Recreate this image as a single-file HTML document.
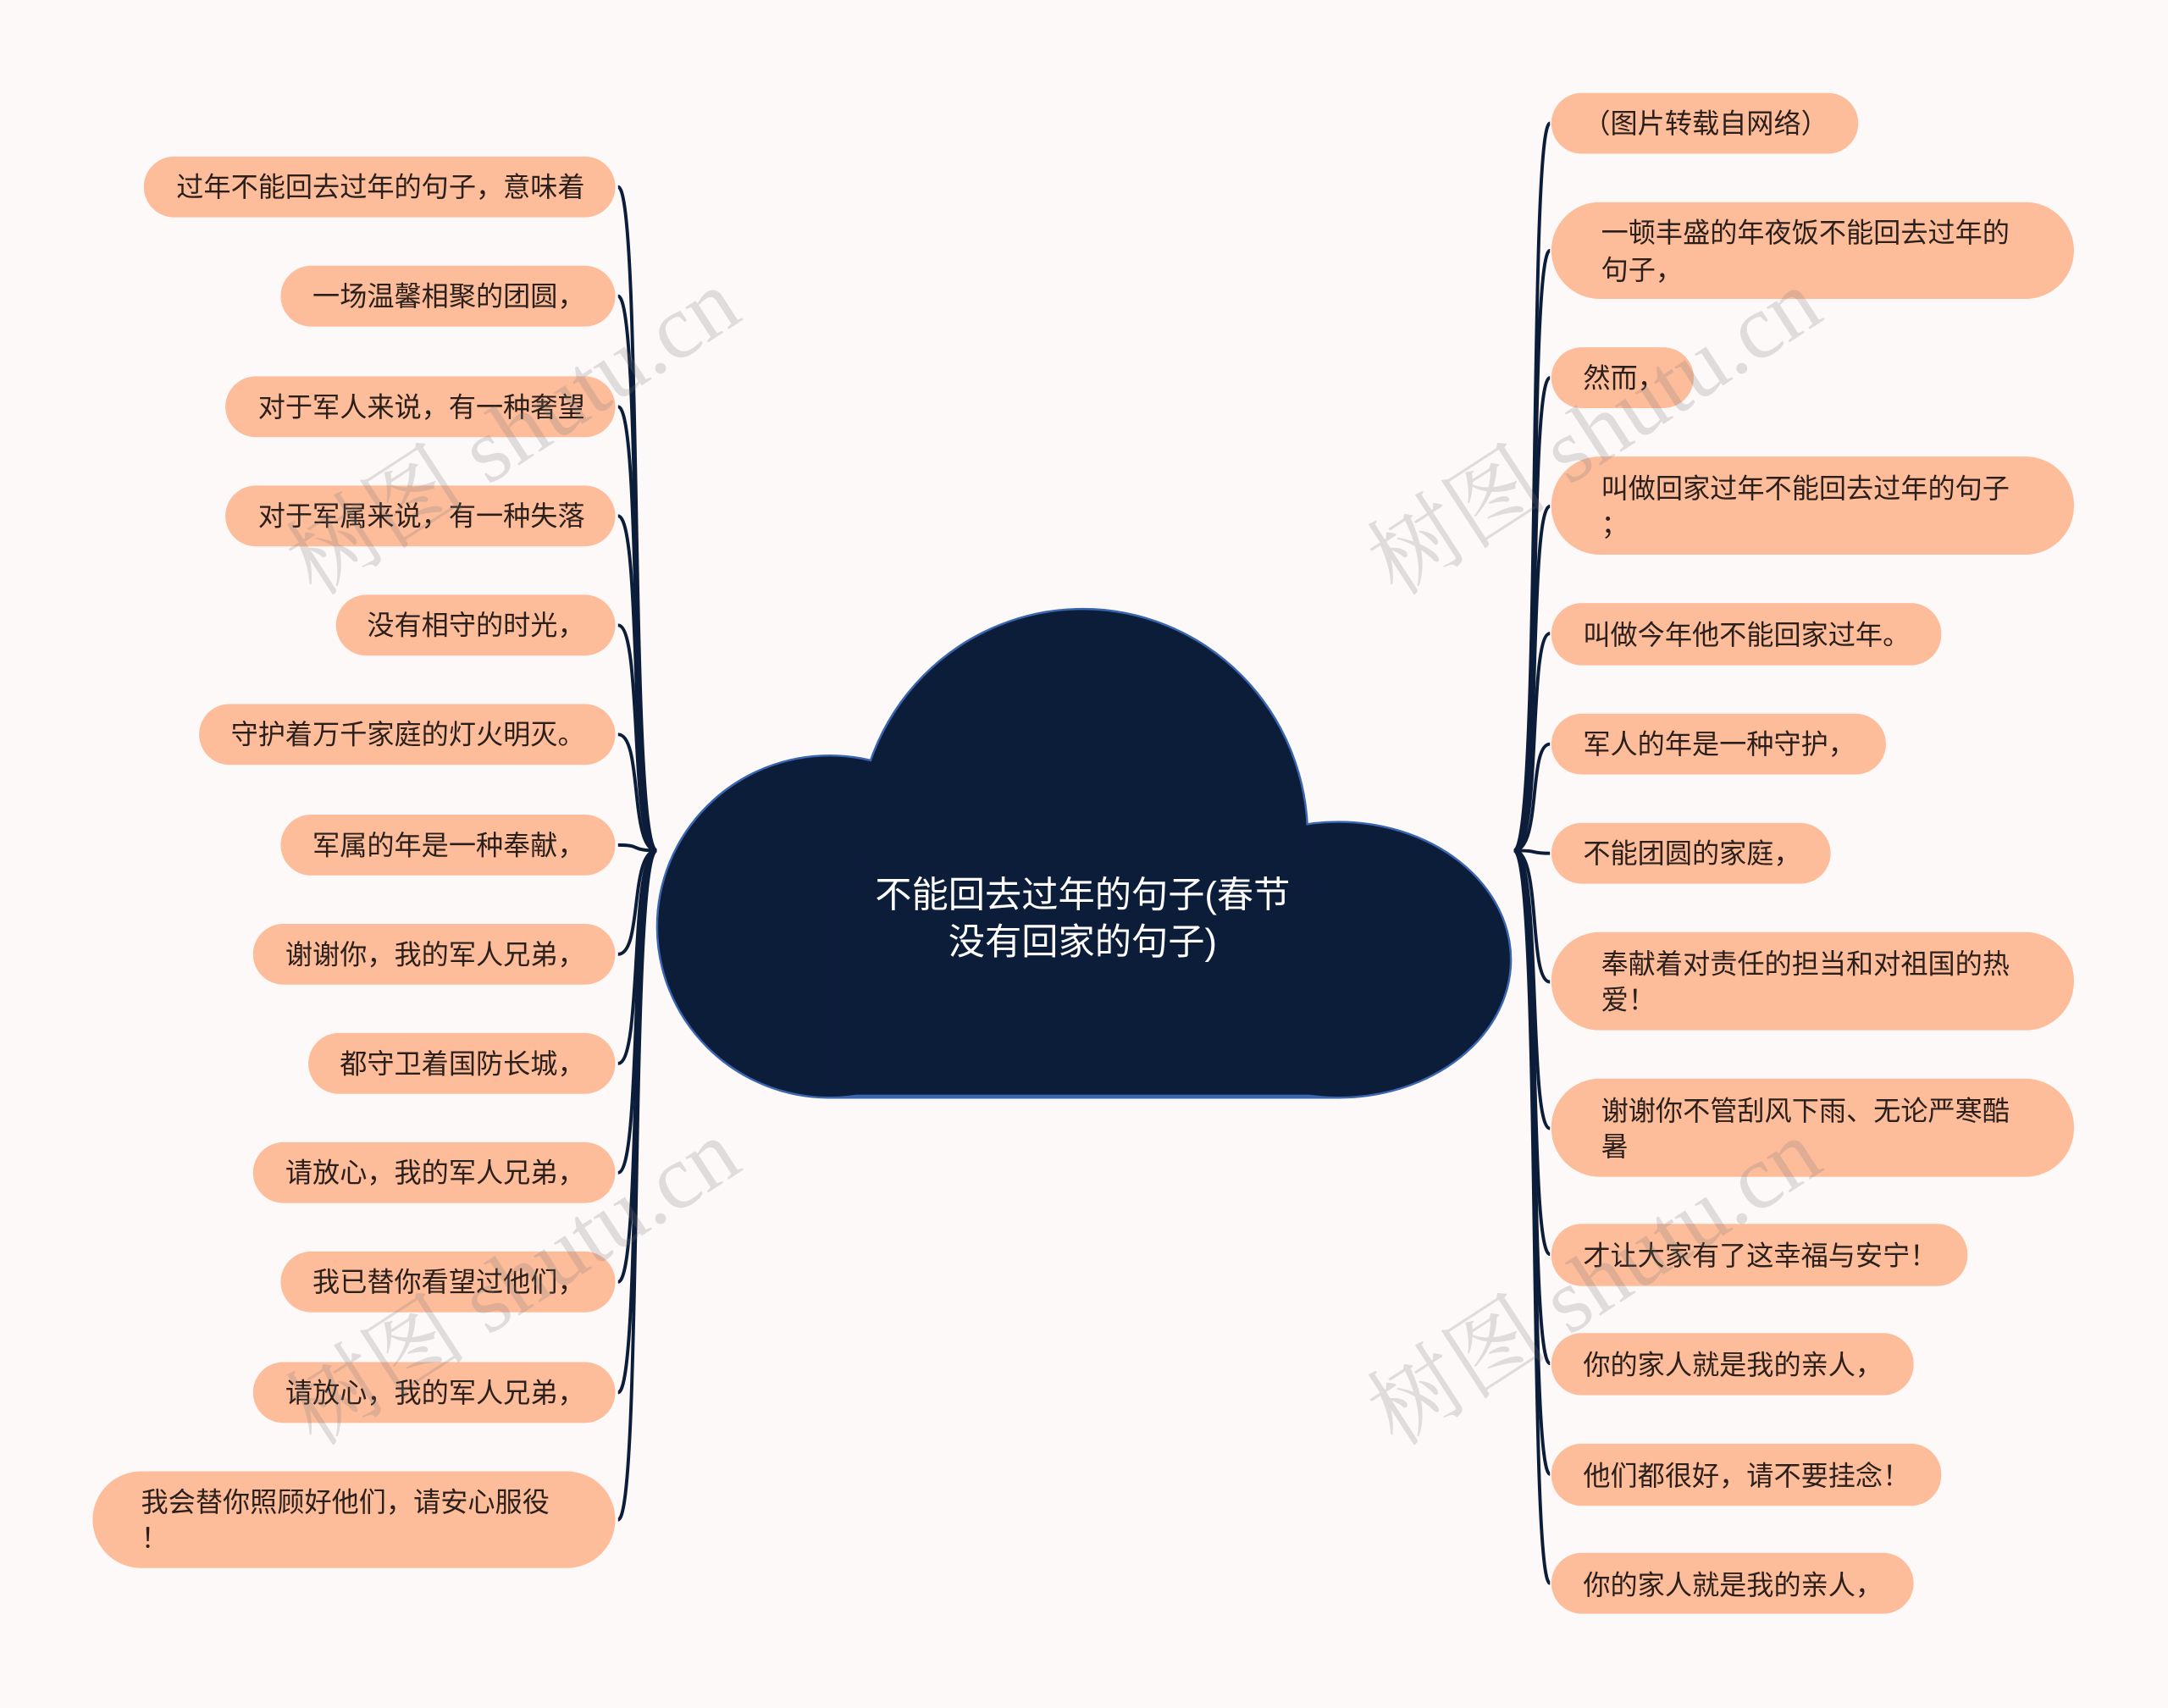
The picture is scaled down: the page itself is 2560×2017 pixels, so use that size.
<!DOCTYPE html>
<html><head><meta charset="utf-8"><style>
html,body{margin:0;padding:0;background:#fdf9f8;}
svg{display:block}
text{font-family:"Liberation Sans","Noto Sans CJK SC",sans-serif;}
text.wm{font-family:"Liberation Serif","Noto Serif CJK SC",serif;}
</style></head><body>
<svg width="2560" height="2017" viewBox="0 0 1568 1235" xmlns="http://www.w3.org/2000/svg">
<rect width="1568" height="1235" fill="#fdf9f8"/>
<g fill="none" stroke="#0c1d3a" stroke-width="2.4">
<path d="M475,615 C455,615 465,135 447,135"/>
<path d="M475,615 C455,615 465,214 447,214"/>
<path d="M475,615 C455,615 465,294 447,294"/>
<path d="M475,615 C455,615 465,373 447,373"/>
<path d="M475,615 C455,615 465,452 447,452"/>
<path d="M475,615 C455,615 465,531 447,531"/>
<path d="M475,615 C455,615 465,611 447,611"/>
<path d="M475,615 C455,615 465,690 447,690"/>
<path d="M475,615 C455,615 465,769 447,769"/>
<path d="M475,615 C455,615 465,848 447,848"/>
<path d="M475,615 C455,615 465,927 447,927"/>
<path d="M475,615 C455,615 465,1007 447,1007"/>
<path d="M475,615 C455,615 465,1099 447,1099"/>
<path d="M1095,615 C1115,615 1105,89 1121,89"/>
<path d="M1095,615 C1115,615 1105,181 1121,181"/>
<path d="M1095,615 C1115,615 1105,273 1121,273"/>
<path d="M1095,615 C1115,615 1105,366 1121,366"/>
<path d="M1095,615 C1115,615 1105,458 1121,458"/>
<path d="M1095,615 C1115,615 1105,538 1121,538"/>
<path d="M1095,615 C1115,615 1105,617 1121,617"/>
<path d="M1095,615 C1115,615 1105,710 1121,710"/>
<path d="M1095,615 C1115,615 1105,816 1121,816"/>
<path d="M1095,615 C1115,615 1105,907 1121,907"/>
<path d="M1095,615 C1115,615 1105,986 1121,986"/>
<path d="M1095,615 C1115,615 1105,1066 1121,1066"/>
<path d="M1095,615 C1115,615 1105,1145 1121,1145"/>
</g>
<g stroke="#3a66b0" stroke-width="3">
<ellipse cx="600" cy="670" rx="124" ry="123"/>
<ellipse cx="968" cy="694" rx="124" ry="99"/>
<ellipse cx="783" cy="605" rx="162" ry="164"/>
<rect x="600" y="700" width="368" height="93"/>
</g>
<g fill="#0c1d3a">
<ellipse cx="600" cy="670" rx="124" ry="123"/>
<ellipse cx="968" cy="694" rx="124" ry="99"/>
<ellipse cx="783" cy="605" rx="162" ry="164"/>
<rect x="600" y="640" width="368" height="151.5"/>
</g>
<text x="783" y="656" fill="#fff" font-size="26.5" text-anchor="middle">不能回去过年的句子(春节</text>
<text x="783" y="690" fill="#fff" font-size="26.5" text-anchor="middle">没有回家的句子)</text>
<g fill="#fdbd9b">
<rect x="104" y="113" width="341" height="44" rx="22"/>
<rect x="203" y="192" width="242" height="44" rx="22"/>
<rect x="163" y="272" width="282" height="44" rx="22"/>
<rect x="163" y="351" width="282" height="44" rx="22"/>
<rect x="243" y="430" width="202" height="44" rx="22"/>
<rect x="144" y="509" width="301" height="44" rx="22"/>
<rect x="203" y="589" width="242" height="44" rx="22"/>
<rect x="183" y="668" width="262" height="44" rx="22"/>
<rect x="223" y="747" width="222" height="44" rx="22"/>
<rect x="183" y="826" width="262" height="44" rx="22"/>
<rect x="203" y="905" width="242" height="44" rx="22"/>
<rect x="183" y="985" width="262" height="44" rx="22"/>
<rect x="67" y="1064" width="378" height="70" rx="35"/>
</g>
<g fill="#2a1f1a" font-size="19.7" text-anchor="end">
<text x="423" y="142">过年不能回去过年的句子，意味着</text>
<text x="423" y="221">一场温馨相聚的团圆，</text>
<text x="423" y="301">对于军人来说，有一种奢望</text>
<text x="423" y="380">对于军属来说，有一种失落</text>
<text x="423" y="459">没有相守的时光，</text>
<text x="423" y="538">守护着万千家庭的灯火明灭。</text>
<text x="423" y="618">军属的年是一种奉献，</text>
<text x="423" y="697">谢谢你，我的军人兄弟，</text>
<text x="423" y="776">都守卫着国防长城，</text>
<text x="423" y="855">请放心，我的军人兄弟，</text>
<text x="423" y="934">我已替你看望过他们，</text>
<text x="423" y="1014">请放心，我的军人兄弟，</text>
</g>
<g fill="#2a1f1a" font-size="19.7">
<text x="102" y="1093">我会替你照顾好他们，请安心服役</text>
<text x="102" y="1119">！</text>
</g>
<g fill="#fdbd9b">
<rect x="1122" y="67" width="222" height="44" rx="22"/>
<rect x="1122" y="146" width="378" height="70" rx="35"/>
<rect x="1122" y="251" width="103" height="44" rx="22"/>
<rect x="1122" y="330" width="378" height="71" rx="35"/>
<rect x="1122" y="436" width="282" height="45" rx="22"/>
<rect x="1122" y="516" width="242" height="44" rx="22"/>
<rect x="1122" y="595" width="202" height="44" rx="22"/>
<rect x="1122" y="674" width="378" height="71" rx="35"/>
<rect x="1122" y="780" width="378" height="71" rx="35"/>
<rect x="1122" y="885" width="301" height="45" rx="22"/>
<rect x="1122" y="964" width="262" height="45" rx="22"/>
<rect x="1122" y="1044" width="282" height="45" rx="22"/>
<rect x="1122" y="1123" width="262" height="44" rx="22"/>
</g>
<g fill="#2a1f1a" font-size="19.7">
<text x="1145" y="96">（图片转载自网络）</text>
<text x="1158" y="175">一顿丰盛的年夜饭不能回去过年的</text>
<text x="1158" y="202">句子，</text>
<text x="1145" y="280">然而，</text>
<text x="1158" y="360">叫做回家过年不能回去过年的句子</text>
<text x="1158" y="386">；</text>
<text x="1145" y="466">叫做今年他不能回家过年。</text>
<text x="1145" y="545">军人的年是一种守护，</text>
<text x="1145" y="624">不能团圆的家庭，</text>
<text x="1158" y="704">奉献着对责任的担当和对祖国的热</text>
<text x="1158" y="730">爱！</text>
<text x="1158" y="810">谢谢你不管刮风下雨、无论严寒酷</text>
<text x="1158" y="836">暑</text>
<text x="1145" y="915">才让大家有了这幸福与安宁！</text>
<text x="1145" y="994">你的家人就是我的亲人，</text>
<text x="1145" y="1074">他们都很好，请不要挂念！</text>
<text x="1145" y="1153">你的家人就是我的亲人，</text>
</g>
<g fill="rgba(120,120,120,0.22)" font-size="66">
<text class="wm" x="0" y="0" transform="translate(228,432) rotate(-33)">树图 shutu.cn</text>
<text class="wm" x="0" y="0" transform="translate(1010,432) rotate(-33)">树图 shutu.cn</text>
<text class="wm" x="0" y="0" transform="translate(228,1047) rotate(-33)">树图 shutu.cn</text>
<text class="wm" x="0" y="0" transform="translate(1010,1047) rotate(-33)">树图 shutu.cn</text>
</g>
</svg>
</body></html>
